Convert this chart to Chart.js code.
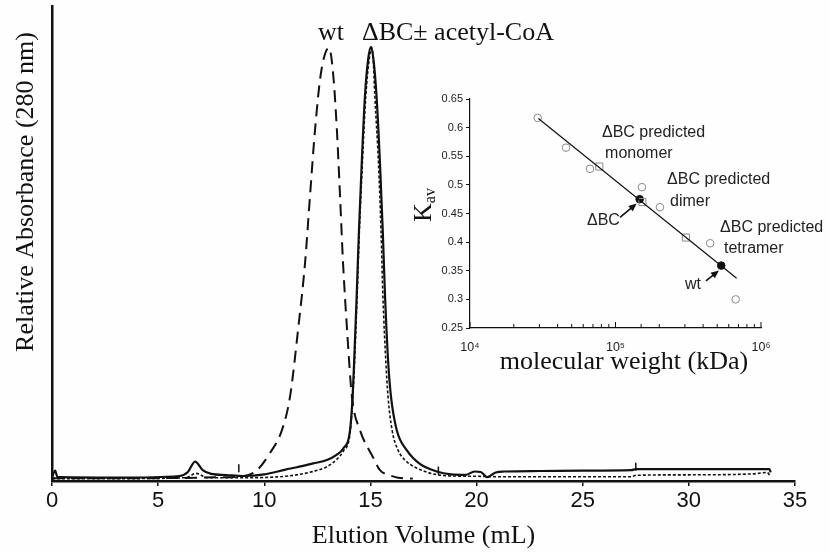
<!DOCTYPE html>
<html>
<head>
<meta charset="utf-8">
<script src="https://cdn.jsdelivr.net/npm/chart.js@4.4.1/dist/chart.umd.min.js"></script>
<style>
  body { margin: 0; background: #fefefe; }
  #wrap { position: relative; width: 830px; height: 553px; }
  #main { position: absolute; left: 0; top: 0; }
  #inset { position: absolute; left: 400px; top: 80px; }
</style>
</head>
<body>
<div id="wrap">
  <canvas id="main" width="830" height="553"></canvas>
  <canvas id="inset" width="430" height="300"></canvas>
</div>
<script>
// elution profiles: volume (mL) and relative absorbance at 280 nm
const wtVolume = [0, 5, 8, 9.0, 9.66, 10.27, 10.83, 11.21, 11.59, 11.92, 12.15, 12.39, 12.67, 13.05, 13.24, 13.42, 13.57, 13.71, 13.9, 14.13, 14.51, 15.12, 15.45, 15.92, 16.3, 17.0];
const wtAbs = [0.006, 0.006, 0.008, 0.01, 0.023, 0.059, 0.107, 0.177, 0.318, 0.459, 0.598, 0.739, 0.859, 0.912, 0.859, 0.739, 0.598, 0.459, 0.318, 0.177, 0.107, 0.05, 0.023, 0.012, 0.007, 0.005];

const dbcVolume = [0, 0.15, 0.25, 0.4, 3, 6.0, 6.4, 6.74, 7.1, 7.5, 8.2, 9.0, 10.0, 11.0, 11.54, 12.3, 12.95, 13.4, 13.71, 14.04, 14.16, 14.23, 14.35, 14.46, 14.59, 14.74, 14.9, 15.03, 15.15, 15.29, 15.45, 15.58, 15.69, 15.84, 15.97, 16.24, 16.71, 17.33, 18.12, 18.8, 19.5, 19.9, 20.2, 20.5, 20.9, 21.3, 23, 25, 27.3, 27.5, 29, 31, 33.8, 33.85];
const dbcAbs = [0.008, 0.022, 0.009, 0.008, 0.007, 0.0105, 0.019, 0.041, 0.023, 0.015, 0.0126, 0.0105, 0.014, 0.024, 0.029, 0.037, 0.044, 0.055, 0.068, 0.107, 0.177, 0.248, 0.387, 0.528, 0.669, 0.809, 0.89, 0.914, 0.885, 0.809, 0.669, 0.528, 0.387, 0.248, 0.177, 0.107, 0.065, 0.036, 0.02, 0.014, 0.013, 0.02, 0.019, 0.008, 0.018, 0.02, 0.021, 0.022, 0.023, 0.025, 0.025, 0.025, 0.025, 0.018];

const acoaVolume = [0, 3, 6.3, 6.8, 7.3, 9, 11, 12.3, 12.95, 13.4, 13.71, 14.04, 14.16, 14.25, 14.37, 14.48, 14.62, 14.78, 14.95, 15.06, 15.12, 15.21, 15.38, 15.5, 15.59, 15.73, 15.83, 16.02, 16.3, 16.63, 17.1, 17.95, 18.6, 20, 21, 23, 25, 27.3, 27.5, 30, 33, 33.7, 33.8];
const acoaAbs = [0.005, 0.005, 0.007, 0.016, 0.007, 0.007, 0.01, 0.02, 0.03, 0.045, 0.062, 0.1, 0.17, 0.248, 0.387, 0.528, 0.669, 0.809, 0.89, 0.912, 0.895, 0.809, 0.669, 0.528, 0.387, 0.248, 0.177, 0.107, 0.065, 0.044, 0.029, 0.015, 0.011, 0.01, 0.009, 0.009, 0.009, 0.009, 0.012, 0.013, 0.015, 0.018, 0.012];

// fraction marks on the trace
const markVolume = [8.8, 18.2, 27.5];
const markAbs = [0.027, 0.022, 0.03];

const volumeTicks = [0, 5, 10, 15, 20, 25, 30, 35];

// inset: calibration, Kav vs molecular weight
const standardsMW = [29200, 45700, 66800, 152000, 202000, 447000, 670000];
const standardsKav = [0.617, 0.565, 0.528, 0.496, 0.461, 0.398, 0.300];
const predictedMW = [77400, 153000, 305000];
const predictedKav = [0.532, 0.470, 0.408];
const measuredMW = [146600, 533000];
const measuredKav = [0.475, 0.359];
const fitMW = [29500, 680000];
const fitKav = [0.616, 0.337];

const noteText = ['ΔBC predicted', 'monomer', 'ΔBC predicted', 'dimer', 'ΔBC predicted', 'tetramer', 'ΔBC', 'wt'];
const noteMW = [80700, 84800, 226000, 237000, 523000, 557000, 63700, 300000];
const noteKav = [0.592, 0.554, 0.509, 0.470, 0.425, 0.388, 0.437, 0.325];

function pts(xs, ys) {
  return xs.map((x, i) => ({ x: x, y: ys[i] }));
}

const ink = '#111';
const serif = '"Liberation Serif", "Times New Roman", serif';
const sans = '"Liberation Sans", Arial, sans-serif';

// titles and peak labels of the main chart
const mainText = {
  id: 'mainText',
  afterDraw(chart) {
    const ctx = chart.ctx;
    const xs = chart.scales.x, ys = chart.scales.y;
    ctx.save();
    ctx.fillStyle = ink;
    ctx.font = '26px ' + serif;
    ctx.textBaseline = 'alphabetic';
    ctx.fillText('wt', xs.getPixelForValue(12.53), ys.getPixelForValue(0.928));
    ctx.fillText('ΔBC± acetyl-CoA', xs.getPixelForValue(14.6), ys.getPixelForValue(0.928));
    ctx.translate(33, 192);
    ctx.rotate(-Math.PI / 2);
    ctx.textAlign = 'center';
    ctx.fillText('Relative Absorbance (280 nm)', 0, 0);
    ctx.restore();
  }
};

new Chart(document.getElementById('main'), {
  type: 'scatter',
  data: {
    datasets: [
      { label: 'wt', data: pts(wtVolume, wtAbs), showLine: true, borderColor: ink, borderWidth: 2, borderDash: [12, 7], pointRadius: 0, cubicInterpolationMode: 'monotone' },
      { label: 'ΔBC', data: pts(dbcVolume, dbcAbs), showLine: true, borderColor: ink, borderWidth: 2.2, pointRadius: 0, cubicInterpolationMode: 'monotone' },
      { label: 'ΔBC + acetyl-CoA', data: pts(acoaVolume, acoaAbs), showLine: true, borderColor: ink, borderWidth: 1.6, borderDash: [3, 2], pointRadius: 0, cubicInterpolationMode: 'monotone' },
      { label: 'fractions', data: pts(markVolume, markAbs), showLine: false, pointStyle: 'line', pointRotation: 90, pointRadius: 4, pointBorderWidth: 1.5, pointBorderColor: ink }
    ]
  },
  options: {
    responsive: false,
    animation: false,
    layout: { padding: { left: 0, top: 6, right: 35, bottom: 0 } },
    plugins: { legend: { display: false }, tooltip: { enabled: false } },
    scales: {
      x: {
        type: 'linear', min: 0, max: 35,
        afterBuildTicks: s => { s.ticks = volumeTicks.map(v => ({ value: v })); },
        ticks: { color: ink, font: { family: sans, size: 22 }, padding: 2, maxRotation: 0 },
        grid: { display: true, drawOnChartArea: false, drawTicks: true, tickLength: 5, color: ink, lineWidth: 1.5 },
        border: { color: ink, width: 2.5 },
        title: { display: true, text: 'Elution Volume (mL)', color: ink, font: { family: serif, size: 26 }, padding: { top: 0, bottom: 1 } },
        afterFit: s => { s.height = 72; }
      },
      y: {
        min: 0, max: 1,
        ticks: { display: false },
        grid: { display: false },
        border: { color: ink, width: 2.5 },
        afterFit: s => { s.width = 52; }
      }
    }
  },
  plugins: [mainText]
});

// inset decorations: inward log ticks, axis titles, notes and arrows
const sup = { 4: '⁴', 5: '⁵', 6: '⁶' };
function isDecade(v) {
  const p = Math.log10(v);
  return Math.abs(p - Math.round(p)) < 1e-9;
}

function arrow(ctx, x0, y0, x1, y1) {
  const a = Math.atan2(y1 - y0, x1 - x0);
  const len = 8, w = 3.5;
  ctx.beginPath();
  ctx.moveTo(x0, y0);
  ctx.lineTo(x1 - len * 0.6 * Math.cos(a), y1 - len * 0.6 * Math.sin(a));
  ctx.stroke();
  ctx.beginPath();
  ctx.moveTo(x1, y1);
  ctx.lineTo(x1 - len * Math.cos(a) + w * Math.sin(a), y1 - len * Math.sin(a) - w * Math.cos(a));
  ctx.lineTo(x1 - len * Math.cos(a) - w * Math.sin(a), y1 - len * Math.sin(a) + w * Math.cos(a));
  ctx.closePath();
  ctx.fill();
}

const insetDecor = {
  id: 'insetDecor',
  afterDraw(chart) {
    const ctx = chart.ctx;
    const xs = chart.scales.x, ys = chart.scales.y;
    ctx.save();
    ctx.strokeStyle = ink;
    ctx.fillStyle = ink;
    ctx.lineWidth = 1;
    xs.ticks.forEach(t => {
      const px = xs.getPixelForValue(t.value);
      ctx.beginPath();
      ctx.moveTo(px, ys.bottom);
      ctx.lineTo(px, ys.bottom - (isDecade(t.value) ? 6 : 4));
      ctx.stroke();
    });

    ctx.fillStyle = '#222';
    ctx.font = '16px ' + sans;
    ctx.textBaseline = 'middle';
    noteText.forEach((txt, i) => {
      ctx.fillText(txt, xs.getPixelForValue(noteMW[i]), ys.getPixelForValue(noteKav[i]));
    });

    ctx.fillStyle = ink;
    ctx.lineWidth = 1.6;
    const arrowTail = [[-19.7, 18.3], [-15.3, 15.3]];
    const arrowHead = [[-3, 4.3], [-2.3, 5]];
    measuredMW.forEach((mw, i) => {
      const px = xs.getPixelForValue(mw), py = ys.getPixelForValue(measuredKav[i]);
      arrow(ctx, px + arrowTail[i][0], py + arrowTail[i][1], px + arrowHead[i][0], py + arrowHead[i][1]);
    });

    ctx.fillStyle = ink;
    ctx.textBaseline = 'alphabetic';
    ctx.textAlign = 'center';
    ctx.font = '26px ' + serif;
    ctx.fillText('molecular weight (kDa)', 224, 289);

    ctx.textAlign = 'left';
    ctx.translate(31, 142);
    ctx.rotate(-Math.PI / 2);
    ctx.fillText('K', 0, 0);
    const kw = ctx.measureText('K').width;
    ctx.font = '16px ' + serif;
    ctx.fillText('av', kw, 4);
    ctx.restore();
  }
};

new Chart(document.getElementById('inset'), {
  type: 'scatter',
  data: {
    datasets: [
      { label: 'fit', data: pts(fitMW, fitKav), showLine: true, borderColor: ink, borderWidth: 1.2, pointRadius: 0 },
      { label: 'standards', data: pts(standardsMW, standardsKav), pointStyle: 'circle', pointRadius: 3.8, pointBorderWidth: 1, pointBorderColor: '#8a8a8a', pointBackgroundColor: 'rgba(0,0,0,0)' },
      { label: 'predicted', data: pts(predictedMW, predictedKav), pointStyle: 'rect', pointRadius: 5, pointBorderWidth: 1, pointBorderColor: '#8a8a8a', pointBackgroundColor: 'rgba(0,0,0,0)' },
      { label: 'measured', data: pts(measuredMW, measuredKav), pointStyle: 'circle', pointRadius: 3.8, pointBorderWidth: 1, pointBorderColor: ink, pointBackgroundColor: ink }
    ]
  },
  options: {
    responsive: false,
    animation: false,
    layout: { padding: { left: 0, top: 19, right: 69, bottom: 0 } },
    plugins: { legend: { display: false }, tooltip: { enabled: false } },
    scales: {
      x: {
        type: 'logarithmic', min: 1e4, max: 1e6,
        ticks: {
          autoSkip: false, maxRotation: 0, color: '#222', padding: 4,
          font: { family: sans, size: 12.5 },
          callback: v => isDecade(v) ? '10' + sup[Math.round(Math.log10(v))] : ''
        },
        grid: { display: false },
        border: { color: ink, width: 1.2 },
        afterFit: s => { s.height = 52; }
      },
      y: {
        min: 0.25, max: 0.65,
        ticks: { stepSize: 0.05, color: '#222', padding: 3, font: { family: sans, size: 11 }, callback: v => String(parseFloat(v.toFixed(2))) },
        grid: { display: true, drawOnChartArea: false, drawTicks: true, tickLength: 4, color: ink, lineWidth: 1 },
        border: { color: ink, width: 1.2 },
        afterFit: s => { s.width = 70; }
      }
    }
  },
  plugins: [insetDecor]
});
</script>
</body>
</html>
